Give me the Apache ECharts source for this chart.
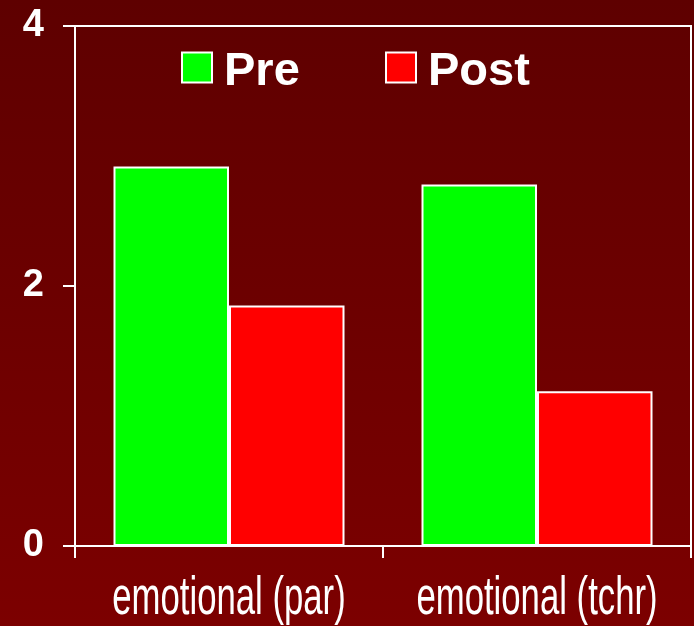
<!DOCTYPE html>
<html><head><meta charset="utf-8">
<script src="https://cdn.jsdelivr.net/npm/echarts@6/dist/echarts.min.js"></script>
<style>html,body{margin:0;padding:0;}#c{width:694px;height:626px;}</style>
</head><body><div id="c"></div>
<script>
const categories = ['emotional (par)', 'emotional (tchr)'];
const preValues = [2.92, 2.78];
const postValues = [1.85, 1.19];
const seriesNames = ['Pre', 'Post'];
const yTicks = [0, 2, 4];

const chart = echarts.init(document.getElementById('c'));
const legendText = {
  color: '#ffffff', fontSize: 47, fontWeight: 'bold', fontFamily: 'Liberation Sans', padding: [0, 0, 0, 7],
  rich: {t: {color: '#ffffff', fontSize: 47, fontWeight: 'bold', fontFamily: 'Liberation Sans', padding: [10, 0, 0, 0]}}
};
chart.setOption({
  animation: false,
  backgroundColor: new echarts.graphic.LinearGradient(0, 0, 0, 1, [
    {offset: 0, color: '#5e0000'}, {offset: 1, color: '#7c0000'}
  ]),
  grid: {left: 75, right: 3, top: 26, bottom: 80, show: true, borderColor: '#ffffff', borderWidth: 2},
  legend: [
    {data: [seriesNames[0]], top: 49, left: 181, padding: 0, itemWidth: 30, itemHeight: 30, icon: 'rect',
     formatter: '{t|{name}}', textStyle: legendText},
    {data: [seriesNames[1]], top: 49, left: 385, padding: 0, itemWidth: 30, itemHeight: 30, icon: 'rect',
     formatter: '{t|{name}}', textStyle: legendText}
  ],
  xAxis: {
    type: 'category', data: categories,
    axisLine: {lineStyle: {color: '#ffffff', width: 2}},
    axisTick: {show: true, length: 12, lineStyle: {color: '#ffffff', width: 2}},
    axisLabel: {show: false}
  },
  yAxis: {
    type: 'value', min: yTicks[0], max: yTicks[yTicks.length - 1], interval: yTicks[1] - yTicks[0],
    axisLine: {show: true, lineStyle: {color: '#ffffff', width: 2}},
    axisTick: {show: true, length: 12, lineStyle: {color: '#ffffff', width: 2}},
    splitLine: {show: false},
    axisLabel: {color: '#ffffff', fontSize: 38, fontWeight: 'bold', fontFamily: 'Liberation Sans', margin: 31}
  },
  series: [
    {name: seriesNames[0], type: 'bar', data: preValues, barGap: '0%', barCategoryGap: '25%',
     itemStyle: {color: '#00ff00', borderColor: '#ffffff', borderWidth: 2}},
    {name: seriesNames[1], type: 'bar', data: postValues, barGap: '0%', barCategoryGap: '25%',
     itemStyle: {color: '#ff0000', borderColor: '#ffffff', borderWidth: 2}}
  ]
});
// condensed category labels, positioned from the axis scale
const baseY = chart.convertToPixel({yAxisIndex: 0}, 0);
chart.setOption({
  graphic: categories.map(function (c, i) {
    return {
      type: 'text',
      x: chart.convertToPixel({xAxisIndex: 0}, c),
      y: baseY + 53,
      scaleX: 0.655,
      style: {text: c, fill: '#ffffff', fontSize: 53, fontFamily: 'Liberation Sans', align: 'center', verticalAlign: 'middle'}
    };
  })
});
</script></body></html>
